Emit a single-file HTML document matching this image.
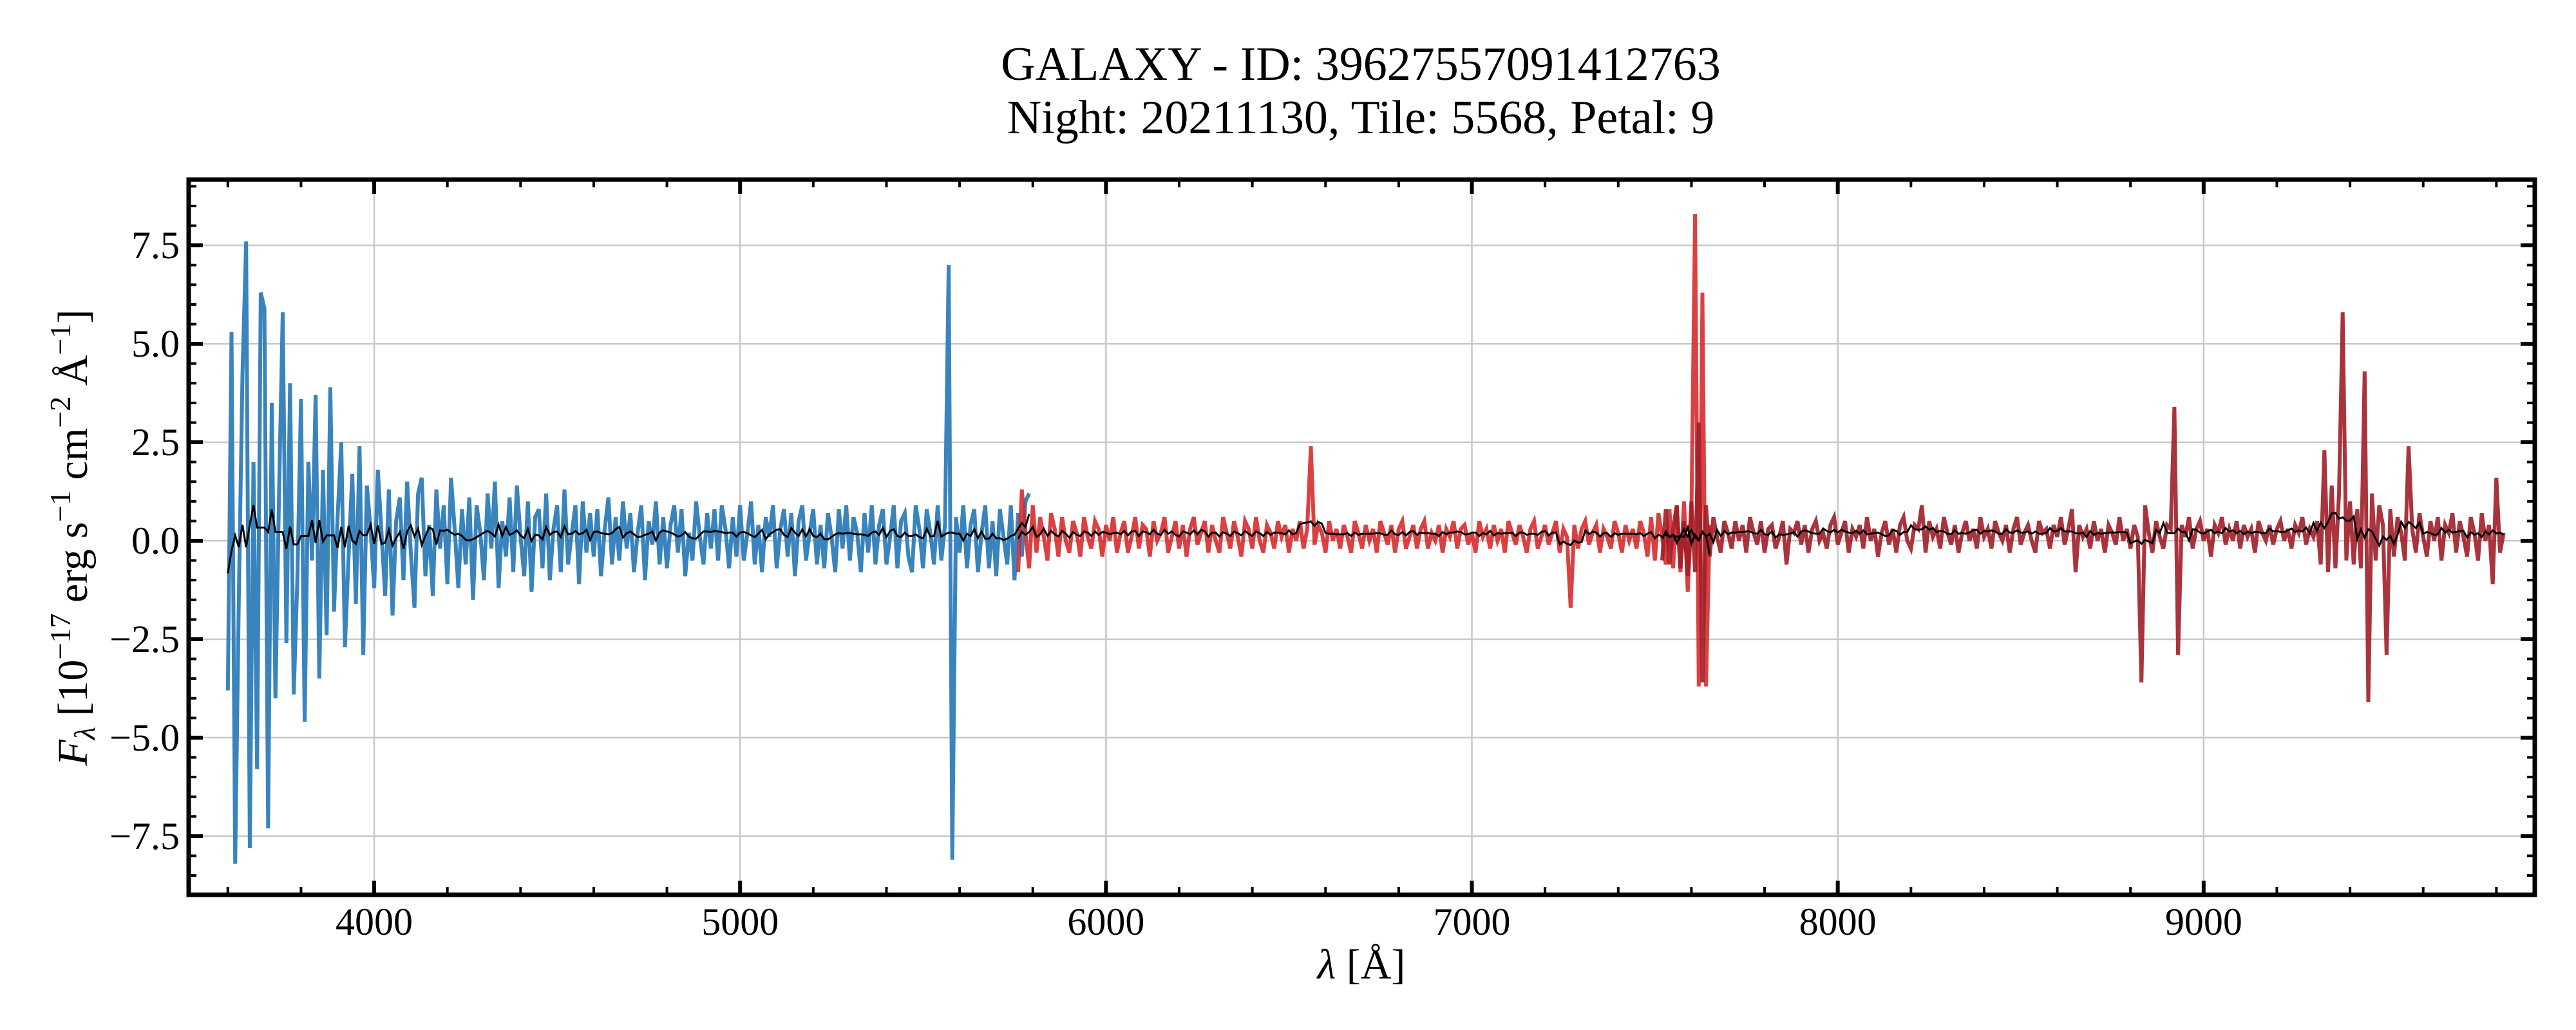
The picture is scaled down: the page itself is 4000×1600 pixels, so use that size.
<!DOCTYPE html>
<html><head><meta charset="utf-8"><style>
html,body{margin:0;padding:0;background:#fff;}
svg{display:block;font-family:"Liberation Serif","DejaVu Serif",serif;}
</style></head><body>
<svg id="chart" width="4000" height="1600" viewBox="0 0 4000 1600" xmlns="http://www.w3.org/2000/svg">
<rect width="4000" height="1600" fill="#fff"/>
<text x="2113" y="124" font-size="74" text-anchor="middle">GALAXY - ID: 39627557091412763</text>
<text x="2113" y="207" font-size="74" text-anchor="middle">Night: 20211130, Tile: 5568, Petal: 9</text>
<g id="grid"></g>
<g id="series"></g>
<g id="axes"></g>
<text x="2114" y="1520" font-size="66" text-anchor="middle"><tspan font-style="italic">λ</tspan> [Å]</text>
<text transform="translate(135,835) rotate(-90)" font-size="66" text-anchor="middle"><tspan font-style="italic">F</tspan><tspan font-style="italic" font-size="46" dy="12">λ</tspan><tspan dy="-12"> [10</tspan><tspan font-size="46" dy="-26">−17</tspan><tspan dy="26"> erg s</tspan><tspan font-size="46" dy="-26">−1</tspan><tspan dy="26"> cm</tspan><tspan font-size="46" dy="-26">−2</tspan><tspan dy="26"> Å</tspan><tspan font-size="46" dy="-26">−1</tspan><tspan dy="26">]</tspan></text>
</svg>
<script>
const xTicks = [4000, 5000, 6000, 7000, 8000, 9000];
const yTicks = [-7.5, -5.0, -2.5, 0.0, 2.5, 5.0, 7.5];
const yTickLabels = ["−7.5", "−5.0", "−2.5", "0.0", "2.5", "5.0", "7.5"];
const blueStart = 3600, redStart = 5760, nirStart = 7520, step = 10;
const blueFlux = [
-3.8,5.3,-8.2,-1.5,4.2,7.6,-7.8,2.0,-5.8,6.3,
5.9,-7.3,3.5,-4.0,1.2,5.8,-2.6,4.0,-3.9,-1.0,
3.6,-4.6,2.0,-0.5,3.7,-3.5,1.8,-2.4,3.9,-1.8,
0.6,2.5,-2.7,-0.4,1.7,-1.6,2.4,-2.9,1.4,0.3,
-1.2,1.8,0.2,-1.4,1.3,-1.9,0.5,1.1,-1.0,1.5,
-0.3,-1.7,1.2,1.6,-0.9,0.4,-1.4,1.3,-0.2,0.9,
-1.1,1.6,0.3,-1.2,0.8,-0.6,1.1,-1.5,0.9,0.2,
-1.0,1.2,-0.2,1.5,-1.2,0.5,-0.4,1.1,-0.8,1.4,
0.1,-0.9,1.0,-1.3,0.6,0.8,-0.7,1.2,-1.0,0.3,
0.9,-0.8,1.3,-0.6,0.2,0.9,-1.1,1.0,-0.3,0.7,
-0.4,0.8,-0.9,0.3,1.1,-0.6,0.6,-0.5,1.0,-0.2,
0.7,-0.8,0.2,0.9,-1.0,0.5,-0.1,1.0,-0.6,0.6,
-0.7,0.4,0.9,-0.3,0.8,-0.9,0.2,-0.5,1.0,0.1,
-0.6,0.7,-0.2,0.8,-0.5,0.9,0.3,-0.7,0.6,-0.4,
0.9,-0.5,0.2,1.0,-0.6,0.4,-0.8,0.6,0.1,0.9,
-0.7,0.3,0.8,-0.4,0.7,-0.9,0.5,0.9,-0.5,0.2,
0.8,-0.6,0.4,-0.7,0.7,0.1,-0.8,0.8,-0.2,0.9,
-0.5,0.6,0.2,-0.8,0.7,-0.3,0.9,-0.6,0.4,0.8,
-0.6,0.1,0.9,-0.7,0.5,0.7,-0.4,-0.8,0.9,0.3,
-0.7,0.8,0.2,-0.6,0.9,-0.5,0.4,7.0,-8.1,0.6,
-0.3,0.9,-0.7,0.4,0.8,-0.8,0.2,0.9,-0.7,0.5,
-0.9,0.8,0.1,-0.6,0.9,-1.0,0.7,-0.4,1.0,1.2
];
const redFlux = [
-0.8,1.3,0.2,-0.7,0.9,-0.3,0.6,0.1,-0.5,0.7,
0.3,-0.4,0.6,0.0,-0.3,0.5,0.2,-0.4,0.6,0.1,
-0.2,0.5,0.3,-0.4,0.4,0.0,0.6,-0.3,0.2,0.5,
-0.3,0.1,0.6,-0.2,0.4,0.3,-0.4,0.5,0.0,0.2,
0.6,-0.3,0.1,0.5,-0.2,0.4,-0.4,0.3,0.6,-0.1,
0.2,0.5,-0.3,0.4,0.0,-0.3,0.6,0.2,-0.2,0.5,
0.1,-0.4,0.5,0.3,-0.2,0.6,0.0,-0.3,0.4,0.2,
-0.2,0.5,0.1,0.4,-0.3,0.3,0.0,0.5,-0.2,0.3,
2.4,-0.1,0.4,0.2,-0.3,0.5,0.0,0.3,-0.2,0.4,
0.1,-0.3,0.5,0.2,-0.2,0.4,0.0,0.3,-0.3,0.5,
0.2,-0.1,0.4,-0.3,0.3,0.5,-0.2,0.1,0.4,-0.2,
0.3,0.5,-0.2,0.2,0.0,0.4,-0.3,0.3,0.1,0.5,
-0.2,0.3,0.4,-0.1,0.2,-0.3,0.5,0.1,0.3,-0.2,
0.4,0.0,0.3,-0.3,0.5,0.2,-0.1,0.4,0.1,-0.3,
0.3,0.5,-0.2,0.1,0.4,-0.1,0.2,0.5,-0.3,0.3,
0.1,-1.7,0.4,-0.2,0.3,0.5,-0.1,0.2,0.4,-0.3,
0.3,0.1,-0.2,0.5,0.2,-0.3,0.4,0.0,0.3,-0.2,
0.5,0.2,-0.4,0.6,-0.5,0.7,0.1,-0.6,0.8,-0.7,
0.9,-0.8,1.0,-1.3,0.6,8.3,-3.7,6.3,-3.7,0.4
];
const nirFlux = [
-0.5,0.8,-0.6,0.3,0.9,-0.7,0.5,-0.9,1.0,-0.8,
3.0,-3.6,0.9,-0.4,0.6,0.1,-0.3,0.5,0.2,-0.2,
0.5,0.0,0.4,-0.3,0.6,0.2,-0.1,0.5,-0.3,0.3,
0.4,-0.2,0.1,0.5,-0.6,0.3,0.2,0.5,-0.1,0.4,
-0.3,0.3,0.5,0.0,0.2,-0.2,0.4,0.6,-0.1,0.2,
0.5,-0.3,0.3,0.1,0.4,-0.2,0.6,0.0,0.3,-0.4,
0.2,0.5,-0.1,0.3,-0.3,0.4,0.6,0.0,-0.2,0.4,
0.3,0.9,-0.3,0.5,0.1,0.3,-0.2,0.6,0.2,-0.1,
0.4,-0.3,0.2,0.5,0.0,0.3,-0.2,0.6,0.1,0.3,
-0.2,0.5,0.2,0.0,0.4,-0.3,0.3,0.6,-0.1,0.2,
0.4,0.0,-0.3,0.5,0.2,0.3,-0.2,0.4,0.1,0.6,
-0.1,0.3,0.8,-0.8,0.4,0.1,0.3,-0.2,0.5,0.0,
0.3,-0.3,0.4,0.2,-0.1,0.6,0.0,0.3,-0.2,0.4,
0.1,-3.6,0.9,0.2,-0.3,0.5,0.1,-0.2,0.4,0.3,
3.4,-2.9,0.4,0.1,0.6,-0.2,0.3,0.5,0.0,0.3,
-0.4,0.4,0.2,0.6,-0.1,0.3,0.0,0.5,-0.2,0.4,
0.1,0.3,-0.3,0.5,0.2,0.0,0.4,-0.1,0.3,0.5,
0.0,0.3,-0.2,0.4,0.2,0.6,-0.1,0.3,0.1,0.5,
-0.6,2.3,-0.8,1.4,-0.7,1.2,5.8,-0.5,1.0,-0.6,
0.8,-0.7,4.3,-4.1,1.2,-0.5,0.9,0.4,-2.9,0.8,
-0.4,0.6,0.2,-0.5,2.4,0.3,-0.3,0.7,0.1,-0.4,
0.5,0.0,0.6,-0.5,0.4,0.2,0.7,-0.3,0.5,0.1,
-0.4,0.6,0.2,-0.5,0.7,0.0,0.4,-1.1,1.6,-0.3,
0.2
];
const X0 = 3493, X1 = 9905, Y0 = -8.99, Y1 = 9.17;
const PL = 293, PR = 3936, PT = 279, PB = 1390;
const NS = "http://www.w3.org/2000/svg";
function xs(v){ return PL + (v - X0) / (X1 - X0) * (PR - PL); }
function ys(v){ return PB - (v - Y0) / (Y1 - Y0) * (PB - PT); }
function mk(tag, attrs, parent){
  const e = document.createElementNS(NS, tag);
  for (const k in attrs) e.setAttribute(k, attrs[k]);
  parent.appendChild(e); return e;
}
const grid = document.getElementById('grid');
const series = document.getElementById('series');
const axes = document.getElementById('axes');
xTicks.forEach(function(t){
  const l = mk('line', {x1: xs(t), x2: xs(t), y1: PT, y2: PB, stroke: '#c8c8c8', 'stroke-width': 2.5}, grid);
  
  
});
yTicks.forEach(function(t){
  const l = mk('line', {x1: PL, x2: PR, y1: ys(t), y2: ys(t), stroke: '#c8c8c8', 'stroke-width': 2.5}, grid);
  
  
});
function drawSeries(arr, start, color, name){
  let d = '';
  arr.forEach(function(v, i){ d += (i ? 'L' : 'M') + xs(start + i * step).toFixed(1) + ' ' + ys(v).toFixed(1); });
  const p = mk('path', {d: d, fill: 'none', stroke: color, 'stroke-width': 6, 'stroke-linejoin': 'miter'}, series);
  
  
}
drawSeries(blueFlux, blueStart, '#3a84bd', 'blue-arm-flux');
drawSeries(redFlux, redStart, 'rgba(214,39,40,0.88)', 'red-arm-flux');
drawSeries(nirFlux, nirStart, 'rgba(160,30,40,0.9)', 'nir-arm-flux');
function smoothSeries(arr, start, name){
  let d = ''; const w = 3;
  arr.forEach(function(v, i){
    let s = 0, n = 0;
    for (let k = -w; k <= w; k++){ const j = i + k; if (j >= 0 && j < arr.length){ const q = Math.max(-2, Math.min(2, arr[j])); s += q; n++; } }
    d += (i ? 'L' : 'M') + xs(start + i * step).toFixed(1) + ' ' + ys(s / n + 0.05).toFixed(1);
  });
  const p = mk('path', {d: d, fill: 'none', stroke: '#000', 'stroke-width': 3}, series);
  
  
}
smoothSeries(blueFlux, blueStart, 'blue-smoothed-model');
smoothSeries(redFlux, redStart, 'red-smoothed-model');
smoothSeries(nirFlux, nirStart, 'nir-smoothed-model');
for (let v = 3600; v <= 9800; v += 200){
  const major = v % 1000 === 0; const L = major ? 22 : 12; const sw = major ? 6 : 4;
  const a = mk('line', {x1: xs(v), x2: xs(v), y1: PB, y2: PB - L, stroke: '#000', 'stroke-width': sw}, axes);
  
  
  const b = mk('line', {x1: xs(v), x2: xs(v), y1: PT, y2: PT + L, stroke: '#000', 'stroke-width': sw}, axes);
  
  
}
for (let v = -8.5; v <= 9.0; v += 0.5){
  const major = Math.abs(v / 2.5 - Math.round(v / 2.5)) < 1e-6; const L = major ? 22 : 12; const sw = major ? 6 : 4;
  const a = mk('line', {x1: PL, x2: PL + L, y1: ys(v), y2: ys(v), stroke: '#000', 'stroke-width': sw}, axes);
  
  
  const b = mk('line', {x1: PR, x2: PR - L, y1: ys(v), y2: ys(v), stroke: '#000', 'stroke-width': sw}, axes);
  
  
}
const frame = mk('rect', {x: PL, y: PT, width: PR - PL, height: PB - PT, fill: 'none', stroke: '#000', 'stroke-width': 7}, axes);


xTicks.forEach(function(t){
  const e = mk('text', {x: xs(t), y: PB + 62, 'font-size': 60, 'text-anchor': 'middle'}, axes);
  e.textContent = String(t);
  
  
});
yTicks.forEach(function(t, i){
  const e = mk('text', {x: PL - 14, y: ys(t) + 20, 'font-size': 60, 'text-anchor': 'end'}, axes);
  e.textContent = yTickLabels[i];
  
  
});
</script>
</body></html>
